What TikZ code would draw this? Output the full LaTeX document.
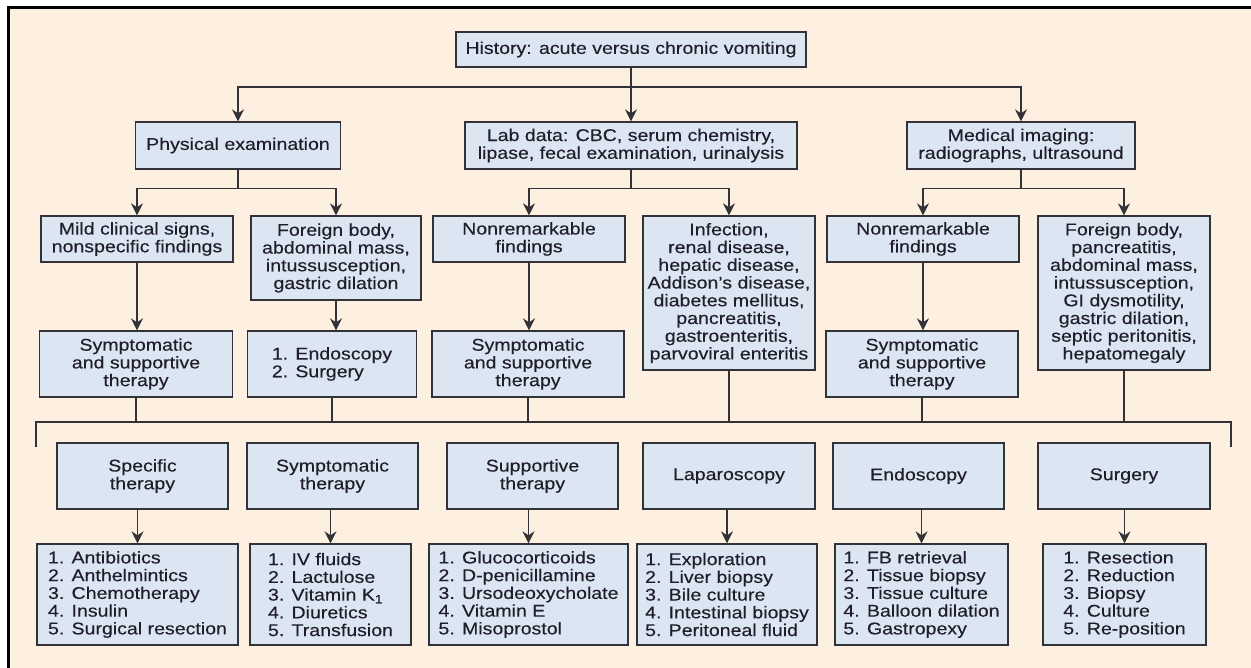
\documentclass[tikz,border=0pt]{standalone}
\usepackage{fontspec}
\setmainfont[FakeStretch=1.15, FakeBold=0.3]{Liberation Sans}
\usetikzlibrary{arrows.meta, positioning}
\definecolor{paper}{RGB}{253,240,224}
\definecolor{boxfill}{RGB}{220,230,243}
\definecolor{boxline}{RGB}{50,50,56}
\definecolor{inkdark}{RGB}{32,30,42}
\tikzset{
      blue box/.style={
		fill=boxfill,
		draw=boxline,
		line width=1pt,
		text=inkdark,
		align=center,
		inner sep=2pt,
		font=\fontsize{12.75pt}{13.3pt}\selectfont,
	  },
  		list box/.style={
    	blue box, align=left,
      },
      boxsize/.style 2 args={
		minimum width=#1*0.75pt,
		minimum height=#2*0.75pt,
	  },
      link/.style={draw=boxline, line width=1pt},
      arrow/.style={link, -{Stealth[length=9pt, width=9pt, inset=3pt]}},
  	}
\begin{document}
\begin{tikzpicture}[x=0.75pt, y=-0.75pt]
    \useasboundingbox (0,0) rectangle (1251,667);
    \clip (0,0) rectangle (1251,667);
    \fill[white] (0,0) rectangle (1251,667);
    \draw[line width=2.25pt, fill=paper] (8.5,7.5) rectangle (1275,690);

    % top levels
    \node [blue box, boxsize={350}{35}] (history) at (631,49.5) {History: acute versus chronic vomiting};
    \node [blue box, boxsize={205}{47}] (physical) at (238,145.5) {Physical examination};
    \node [blue box, boxsize={332}{47}] (labdata) at (631,145.5) {Lab data: CBC, serum chemistry,\\lipase, fecal examination, urinalysis};
    \node [blue box, boxsize={228}{47}] (imaging) at (1021,145.5) {Medical imaging:\\radiographs, ultrasound};

    % findings
    \node [blue box, boxsize={192}{46}] (mild) at (137,239) {Mild clinical signs,\\nonspecific findings};
    \node [blue box, boxsize={170}{84}] (foreignA) at (336,258) {Foreign body,\\abdominal mass,\\intussusception,\\gastric dilation};
    \node [blue box, boxsize={192}{46}] (nonremA) at (529,239) {Nonremarkable\\findings};
    \node [blue box, boxsize={172}{154}] (infection) at (729,293) {Infection,\\renal disease,\\hepatic disease,\\Addison’s disease,\\diabetes mellitus,\\pancreatitis,\\gastroenteritis,\\parvoviral enteritis};
    \node [blue box, boxsize={192}{46}] (nonremB) at (923,239) {Nonremarkable\\findings};
    \node [blue box, boxsize={172}{154}] (foreignB) at (1124,293) {Foreign body,\\pancreatitis,\\abdominal mass,\\intussusception,\\GI dysmotility,\\gastric dilation,\\septic peritonitis,\\hepatomegaly};

    \node [blue box, boxsize={193}{66}] (symA) at (136,364) {Symptomatic\\and supportive\\therapy};
    \node [list box, boxsize={169}{66}] (endosurg) at (332,364) {1. Endoscopy\\2. Surgery};
    \node [blue box, boxsize={192}{66}] (symB) at (528,364) {Symptomatic\\and supportive\\therapy};
    \node [blue box, boxsize={192}{66}] (symC) at (922,364) {Symptomatic\\and supportive\\therapy};

    % therapies
    \node [blue box, boxsize={171}{66}] (specific) at (142.5,476) {Specific\\therapy};
    \node [blue box, boxsize={171}{66}] (symther) at (332.5,476) {Symptomatic\\therapy};
    \node [blue box, boxsize={171}{66}] (supportive) at (532.5,476) {Supportive\\therapy};
    \node [blue box, boxsize={172}{66}] (laparo) at (729,476) {Laparoscopy};
    \node [blue box, boxsize={171}{66}] (endoscopy) at (918.5,476) {Endoscopy};
    \node [blue box, boxsize={172}{66}] (surgery) at (1124,476) {Surgery};

    \node [list box, boxsize={201}{101}] (antib) at (137.5,594.5) {1. Antibiotics\\2. Anthelmintics\\3. Chemotherapy\\4. Insulin\\5. Surgical resection};
    \node [list box, boxsize={161}{101}] (fluids) at (330.5,594.5) {1. IV fluids\\2. Lactulose\\3. Vitamin K\textsubscript{1}\\4. Diuretics\\5. Transfusion};
    \node [list box, boxsize={199}{101}] (gluco) at (528.5,594.5) {1. Glucocorticoids\\2. D-penicillamine\\3. Ursodeoxycholate\\4. Vitamin E\\5. Misoprostol};
    \node [list box, boxsize={180}{101}] (explore) at (727,594.5) {1. Exploration\\2. Liver biopsy\\3. Bile culture\\4. Intestinal biopsy\\5. Peritoneal fluid};
    \node [list box, boxsize={173}{101}] (fbret) at (921.5,594.5) {1. FB retrieval\\2. Tissue biopsy\\3. Tissue culture\\4. Balloon dilation\\5. Gastropexy};
    \node [list box, boxsize={163}{101}] (resect) at (1124.5,594.5) {1. Resection\\2. Reduction\\3. Biopsy\\4. Culture\\5. Re-position};

    % connectors
    \draw [arrow] (history) -- (labdata);
    \coordinate (split top) at (631,87);
    \draw [arrow] (split top) -| (physical);
    \draw [arrow] (split top) -| (imaging);
    \draw [link] (physical.south) -- ++(0,19) coordinate (split phys);
    \draw [arrow] (split phys) -| (mild);
    \draw [arrow] (split phys) -| (foreignA);
    \draw [link] (labdata.south) -- ++(0,19) coordinate (split lab);
    \draw [arrow] (split lab) -| (nonremA);
    \draw [arrow] (split lab) -| (infection);
    \draw [link] (imaging.south) -- ++(0,19) coordinate (split img);
    \draw [arrow] (split img) -| (nonremB);
    \draw [arrow] (split img) -| (foreignB);

    \foreach \up/\down in {mild/symA, foreignA/endosurg, nonremA/symB, nonremB/symC}
      \draw [arrow] (\up.south) -- (\up.south |- \down.north);

    \coordinate (bus left) at (36,422);
    \coordinate (bus right) at (1231,422);
    \draw [link] (bus left) ++(0,25) -- (bus left) -- (bus right) -- ++(0,25);
    \foreach \src in {symA, endosurg, symB, infection, symC, foreignB}
      \draw [link] (\src.south) -- (\src.south |- bus left);

    \foreach \up/\down in {specific/antib, symther/fluids, supportive/gluco, laparo/explore, endoscopy/fbret, surgery/resect}
      \draw [arrow] (\up.south -| \down) -- (\down);
  \end{tikzpicture}
\end{document}
